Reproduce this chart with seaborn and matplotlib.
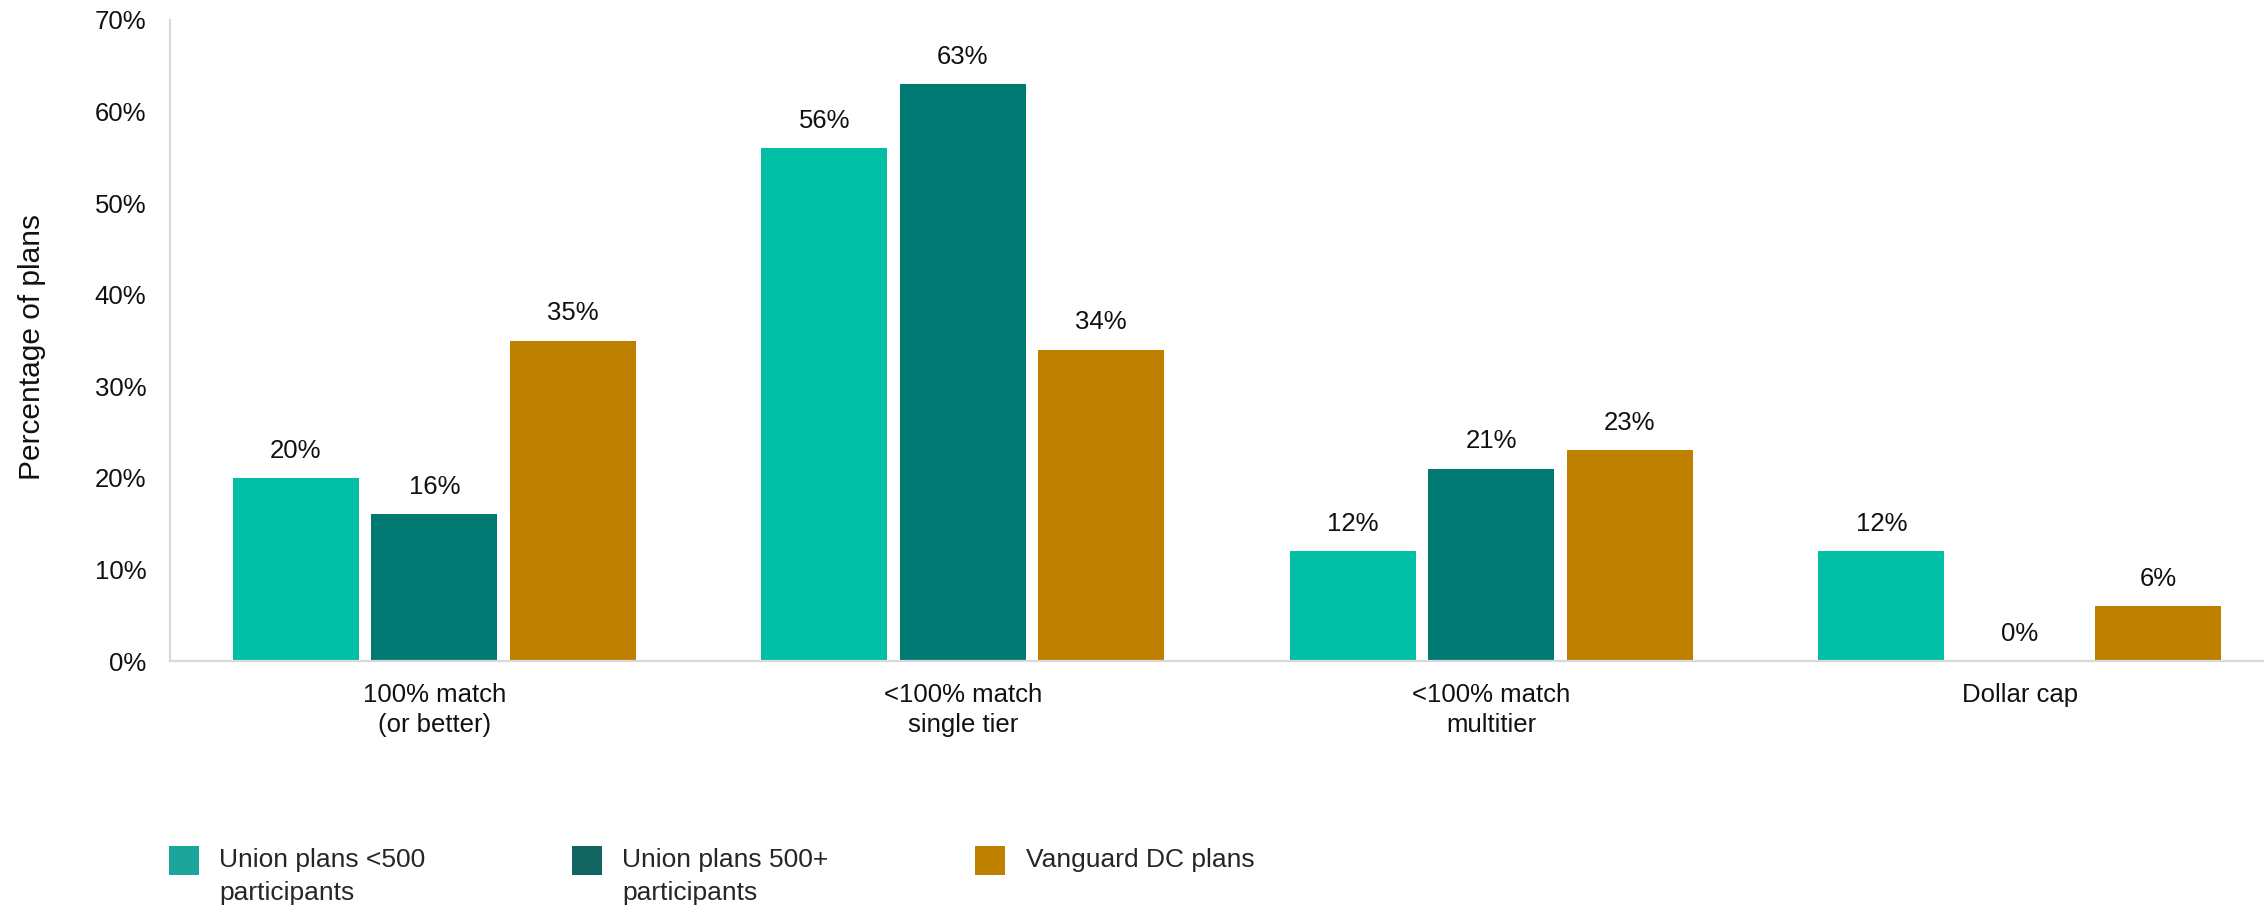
"""
Employer match formula types: union plans vs Vanguard DC plans.
"""

import pandas as pd
import matplotlib
matplotlib.use("Agg")
import matplotlib.pyplot as plt
from matplotlib.patches import Patch, Rectangle
from matplotlib.legend_handler import HandlerPatch
from matplotlib.ticker import PercentFormatter
import seaborn as sns

# Data
categories = ['100% match\n(or better)', '<100% match\nsingle tier',
              '<100% match\nmultitier', 'Dollar cap']
groups = ['Union plans <500\nparticipants', 'Union plans 500+\nparticipants',
          'Vanguard DC plans']
union_small = [20, 56, 12, 12]
union_large = [16, 63, 21, 0]
vanguard_dc = [35, 34, 23, 6]
y_ticks = [0, 10, 20, 30, 40, 50, 60, 70]

bar_colors = ['#00BFA5', '#007A72', '#BF8000']
legend_colors = ['#1BA59B', '#116460', '#BF8000']

rows = []
for grp, vals in zip(groups, [union_small, union_large, vanguard_dc]):
    for cat, v in zip(categories, vals):
        rows.append({'category': cat, 'group': grp, 'value': v})
df = pd.DataFrame(rows)

# Style
sns.set_style('white')
plt.rcParams['font.family'] = ['Liberation Sans', 'DejaVu Sans']
FS = 18.5

fig = plt.figure(figsize=(22.64, 9.08), dpi=100)
ax = fig.add_axes([0.0751, 0.272, 0.9249, 0.706])

sns.barplot(data=df, x='category', y='value', hue='group',
            order=categories, hue_order=groups, palette=bar_colors,
            saturation=1, width=0.786, gap=0.09, linewidth=0,
            legend=False, ax=ax)

for cont in ax.containers:
    ax.bar_label(cont, labels=[f"{b.get_height():.0f}%" for b in cont],
                 padding=11, fontsize=FS, color='#111111')

ax.set_xlim(-0.5, 3.462)
ax.set_ylim(0, 70)
ax.set_yticks(y_ticks)
ax.yaxis.set_major_formatter(PercentFormatter(decimals=0))
ax.tick_params(axis='y', length=0, pad=17, labelsize=FS, labelcolor='#111111')
ax.tick_params(axis='x', length=0, pad=16, labelsize=FS, labelcolor='#111111')
for t in ax.get_xticklabels():
    t.set_linespacing(1.3)
ax.set_xlabel('')
ax.set_ylabel('Percentage of plans', fontsize=21.5, color='#111111')
ax.yaxis.set_label_coords(-0.059, 0.49)

for side in ['top', 'right']:
    ax.spines[side].set_visible(False)
for side in ['left', 'bottom']:
    ax.spines[side].set_color('#D9D9D9')
    ax.spines[side].set_linewidth(1.6)


# legend patches aligned with the first line of each label
def top_patch(legend, orig_handle, xdescent, ydescent, width, height, fontsize):
    return Rectangle((-xdescent, -ydescent + 0.62 * fontsize), width, height)


handles = [Patch(facecolor=c, edgecolor='none') for c in legend_colors]
labels = [g if '\n' in g else g + '\n ' for g in groups]
leg = fig.legend(handles, labels, loc='upper left', bbox_to_anchor=(0.0746, 0.066),
                 ncol=3, frameon=False, fontsize=19, handlelength=1.13,
                 handleheight=1.3, handletextpad=0.78, columnspacing=5.55,
                 borderpad=0, borderaxespad=0,
                 handler_map={Patch: HandlerPatch(patch_func=top_patch)})
for t in leg.get_texts():
    t.set_linespacing(1.45)

fig.savefig('out.png', dpi=100)
